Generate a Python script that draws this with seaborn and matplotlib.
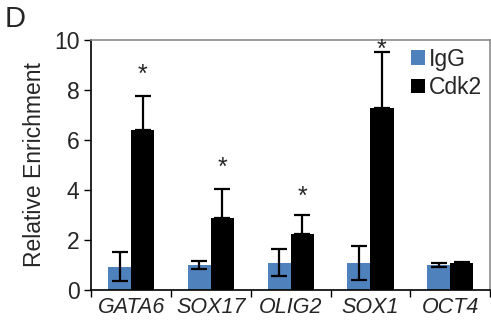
import numpy as np
import pandas as pd
import seaborn as sns
import matplotlib.pyplot as plt

genes = ["GATA6", "SOX17", "OLIG2", "SOX1", "OCT4"]
igg = [0.93, 0.99, 1.09, 1.09, 0.99]
igg_err = [0.58, 0.15, 0.53, 0.68, 0.08]
cdk2 = [6.40, 2.87, 2.23, 7.29, 1.09]
cdk2_err = [1.36, 1.17, 0.75, 2.24, 0.02]
star_y = [8.6, 4.87, 3.73, 9.6]

df = pd.DataFrame({
    "gene": genes * 2,
    "value": igg + cdk2,
    "ab": ["IgG"] * 5 + ["Cdk2"] * 5,
})

sns.set_style("white")
plt.rcParams["font.family"] = ["Liberation Sans", "DejaVu Sans"]

fig = plt.figure(figsize=(4.91, 3.28), dpi=100)
ax = fig.add_axes([0.186, 0.116, 0.812, 0.762])

sns.barplot(data=df, x="gene", y="value", hue="ab", palette=["#4F81BD", "#000000"],
            width=0.58, gap=0, errorbar=None, edgecolor="none", linewidth=0,
            saturation=1, ax=ax)

# error bars from bar positions
xi = [p.get_x() + p.get_width() / 2 for p in ax.containers[0]]
xc = [p.get_x() + p.get_width() / 2 for p in ax.containers[1]]
ax.errorbar(xi, igg, yerr=igg_err, fmt="none", ecolor="black", elinewidth=1.6,
            capsize=5.5, capthick=1.6)
ax.errorbar(xc, cdk2, yerr=[np.zeros(5), cdk2_err], fmt="none", ecolor="black",
            elinewidth=1.6, capsize=5.5, capthick=1.6)

for i, y in enumerate(star_y):
    ax.text(xc[i], y, "*", ha="center", va="center", fontsize=18)

ax.set_ylim(0, 10)
ax.set_xlim(-0.5, 4.5)
ax.set_yticks(range(0, 11, 2))
ax.set_xticks(np.arange(-0.5, 5, 1), labels=[""] * 6)
ax.set_xticks(range(5), labels=genes, minor=True)
ax.tick_params(axis="x", which="minor", length=0, labelsize=15.5, pad=5)
ax.tick_params(axis="x", which="major", length=5, width=1, color="black", direction="out")
ax.tick_params(axis="y", length=5, width=1, color="black", direction="out", labelsize=16.5)
for lab in ax.get_xticklabels(minor=True):
    lab.set_style("italic")
ax.tick_params(left=True, bottom=True)

ax.set_xlabel("")
ax.set_ylabel("Relative Enrichment", fontsize=16.5, labelpad=6)

for s in ["left", "bottom"]:
    ax.spines[s].set_color("black")
    ax.spines[s].set_linewidth(1.2)
for s in ["top", "right"]:
    ax.spines[s].set_color("#8c8c8c")
    ax.spines[s].set_linewidth(1.2)

leg = ax.legend(loc="upper right", bbox_to_anchor=(1.015, 1.025), frameon=False, fontsize=16.5,
                handlelength=0.6, handleheight=0.6, handletextpad=0.2, labelspacing=0.25,
                borderaxespad=0.2)

fig.text(0.01, 0.985, "D", fontsize=21, ha="left", va="top")

fig.savefig("out.png", dpi=100)
